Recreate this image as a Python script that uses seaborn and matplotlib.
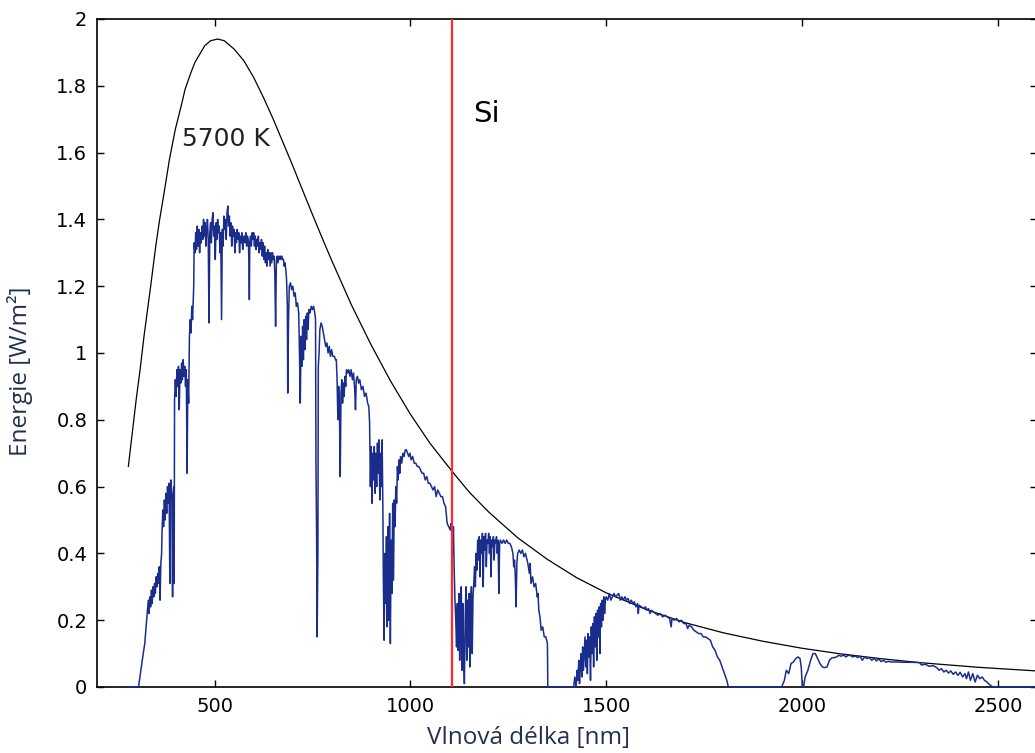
import numpy as np
import pandas as pd
import seaborn as sns
import matplotlib
matplotlib.use("Agg")
import matplotlib.pyplot as plt
from matplotlib.ticker import FuncFormatter

# Black body curve (5700 K)
blackbody_nm = [280, 290, 300, 310, 320, 337, 350, 360, 370, 385, 400, 415, 425, 440,
                450, 460, 475, 490, 508, 525, 550, 575, 600, 625, 650, 675, 700, 725,
                750, 775, 800, 850, 900, 950, 1000, 1050, 1107, 1150, 1200, 1275, 1350,
                1425, 1500, 1600, 1700, 1800, 1900, 2000, 2100, 2200, 2300, 2450, 2600]
blackbody_val = [0.66, 0.76, 0.86, 0.95, 1.05, 1.20, 1.32, 1.40, 1.47, 1.58, 1.67, 1.74,
                 1.79, 1.84, 1.87, 1.89, 1.92, 1.935, 1.94, 1.935, 1.91, 1.875, 1.825,
                 1.765, 1.70, 1.63, 1.56, 1.487, 1.415, 1.344, 1.275, 1.143, 1.024, 0.915,
                 0.817, 0.73, 0.645, 0.584, 0.524, 0.446, 0.382, 0.327, 0.282, 0.233,
                 0.193, 0.162, 0.137, 0.116, 0.099, 0.085, 0.073, 0.059, 0.048]

# Measured solar spectrum (blue curve)
spectrum_nm = [
    280, 306, 312, 318, 322, 326, 329, 331, 333, 335, 337, 339, 341, 343, 345, 347, 349,
    351, 353, 355, 357, 359, 361, 363, 365, 366, 368, 370, 372, 374, 376, 378, 380, 382,
    384, 386, 387, 389, 391, 393, 394, 396, 397, 398, 400, 402, 404, 406, 408, 410, 412,
    414, 416, 418, 420, 422, 424, 426, 428, 430, 432, 434, 436, 438, 440, 442, 444, 446,
    447, 448, 450, 452, 454, 456, 458, 460, 462, 464, 466, 468, 470, 472, 474, 476, 478,
    480, 482, 484, 486, 488, 490, 492, 494, 496, 498, 500, 502, 504, 506, 508, 510, 512,
    514, 516, 518, 520, 522, 524, 526, 528, 530, 532, 534, 536, 538, 540, 542, 544, 546,
    548, 550, 552, 554, 556, 558, 560, 562, 564, 566, 568, 570, 572, 574, 576, 578, 580,
    582, 584, 586, 588, 589, 590, 592, 594, 596, 598, 600, 602, 604, 606, 608, 610, 612,
    614, 616, 618, 620, 622, 624, 626, 628, 630, 632, 634, 636, 638, 640, 642, 644, 646,
    648, 650, 652, 654, 656, 658, 660, 662, 664, 666, 668, 670, 672, 674, 676, 678, 680,
    682, 684, 686, 687, 689, 691, 694, 697, 700, 703, 706, 709, 712, 715, 717, 719, 721,
    723, 725, 727, 729, 731, 733, 735, 737, 739, 741, 744, 747, 750, 753, 756, 758, 759,
    761, 762, 764, 765, 767, 769, 772, 775, 778, 781, 784, 787, 790, 793, 796, 799, 802,
    806, 809, 811, 813, 815, 817, 819, 821, 823, 825, 827, 829, 831, 833, 835, 837, 840,
    843, 846, 849, 852, 855, 858, 860, 862, 865, 868, 871, 875, 879, 883, 887, 891, 894,
    896, 898, 900, 902, 904, 906, 908, 910, 912, 914, 916, 918, 920, 922, 924, 926, 928,
    930, 931, 933, 935, 937, 939, 941, 943, 945, 947, 949, 951, 953, 955, 957, 959, 961,
    963, 965, 967, 969, 971, 973, 975, 978, 981, 984, 987, 990, 993, 996, 999, 1002, 1006,
    1010, 1014, 1018, 1022, 1026, 1030, 1034, 1038, 1042, 1046, 1050, 1054, 1058, 1062,
    1066, 1070, 1074, 1078, 1082, 1086, 1090, 1094, 1098, 1102, 1104, 1106, 1108, 1110,
    1112, 1114, 1116, 1118, 1120, 1122, 1124, 1126, 1128, 1130, 1132, 1134, 1136, 1138,
    1140, 1142, 1144, 1146, 1148, 1150, 1152, 1154, 1156, 1158, 1160, 1162, 1164, 1166,
    1168, 1170, 1172, 1174, 1176, 1178, 1180, 1182, 1184, 1186, 1188, 1190, 1192, 1194,
    1196, 1198, 1200, 1202, 1204, 1206, 1208, 1210, 1212, 1214, 1216, 1218, 1220, 1222,
    1224, 1226, 1228, 1230, 1234, 1238, 1242, 1246, 1250, 1254, 1258, 1262, 1264, 1266,
    1268, 1270, 1272, 1274, 1278, 1282, 1286, 1290, 1294, 1298, 1300, 1304, 1306, 1308,
    1312, 1316, 1320, 1324, 1326, 1328, 1331, 1334, 1338, 1342, 1346, 1350, 1351, 1417,
    1420, 1423, 1426, 1428, 1430, 1432, 1434, 1436, 1438, 1440, 1442, 1444, 1446, 1448,
    1450, 1452, 1454, 1456, 1458, 1460, 1462, 1464, 1466, 1468, 1470, 1472, 1474, 1476,
    1478, 1480, 1482, 1484, 1486, 1488, 1490, 1492, 1494, 1496, 1498, 1500, 1504, 1508,
    1512, 1516, 1520, 1524, 1528, 1532, 1536, 1540, 1544, 1548, 1552, 1556, 1560, 1564,
    1568, 1572, 1576, 1580, 1582, 1584, 1590, 1596, 1600, 1604, 1608, 1612, 1616, 1620,
    1626, 1632, 1638, 1644, 1650, 1656, 1662, 1666, 1668, 1674, 1680, 1686, 1692, 1698,
    1704, 1708, 1712, 1718, 1724, 1730, 1736, 1742, 1748, 1754, 1760, 1766, 1772, 1778,
    1784, 1790, 1796, 1802, 1808, 1812, 1948, 1955, 1960, 1966, 1972, 1978, 1984, 1990,
    1995, 1998, 2001, 2004, 2008, 2015, 2022, 2028, 2034, 2040, 2046, 2052, 2058, 2064,
    2070, 2076, 2082, 2088, 2094, 2100, 2106, 2112, 2118, 2124, 2130, 2136, 2142, 2148,
    2154, 2160, 2166, 2172, 2178, 2184, 2190, 2196, 2202, 2208, 2214, 2220, 2226, 2240,
    2260, 2280, 2300, 2305, 2315, 2325, 2335, 2344, 2350, 2356, 2362, 2368, 2374, 2380,
    2386, 2392, 2398, 2404, 2410, 2416, 2420, 2425, 2430, 2436, 2442, 2448, 2454, 2460,
    2466, 2472, 2478, 2487, 2600]
spectrum_val = [
    0.0, 0.0, 0.05, 0.10, 0.13, 0.19, 0.23, 0.26, 0.22, 0.27, 0.24, 0.29, 0.25, 0.30, 0.27,
    0.31, 0.28, 0.33, 0.30, 0.34, 0.31, 0.36, 0.26, 0.37, 0.40, 0.46, 0.53, 0.48, 0.56, 0.50,
    0.58, 0.52, 0.60, 0.55, 0.61, 0.31, 0.58, 0.62, 0.56, 0.27, 0.57, 0.60, 0.31, 0.86, 0.92,
    0.87, 0.95, 0.90, 0.96, 0.83, 0.95, 0.91, 0.97, 0.92, 0.98, 0.93, 0.96, 0.90, 0.95, 0.64,
    0.92, 0.85, 1.05, 1.10, 1.06, 1.14, 1.10, 1.17, 1.20, 1.33, 1.30, 1.36, 1.31, 1.38, 1.32,
    1.37, 1.30, 1.36, 1.33, 1.38, 1.34, 1.40, 1.35, 1.39, 1.32, 1.37, 1.40, 1.34, 1.09, 1.36,
    1.39, 1.33, 1.40, 1.42, 1.35, 1.38, 1.28, 1.39, 1.34, 1.40, 1.36, 1.38, 1.30, 1.36, 1.10,
    1.37, 1.32, 1.41, 1.37, 1.40, 1.34, 1.42, 1.44, 1.38, 1.41, 1.35, 1.39, 1.32, 1.38, 1.35,
    1.37, 1.30, 1.36, 1.33, 1.37, 1.34, 1.36, 1.30, 1.35, 1.33, 1.36, 1.31, 1.34, 1.35, 1.33,
    1.36, 1.32, 1.35, 1.34, 1.28, 1.16, 1.33, 1.35, 1.32, 1.36, 1.34, 1.36, 1.32, 1.35, 1.31,
    1.34, 1.32, 1.35, 1.30, 1.33, 1.31, 1.34, 1.29, 1.33, 1.28, 1.32, 1.27, 1.30, 1.26, 1.31,
    1.28, 1.30, 1.26, 1.30, 1.27, 1.30, 1.28, 1.29, 1.24, 1.08, 1.28, 1.29, 1.27, 1.29, 1.28,
    1.29, 1.28, 1.29, 1.28, 1.28, 1.26, 1.27, 1.25, 1.22, 1.14, 0.88, 1.10, 1.20, 1.21, 1.19,
    1.20, 1.17, 1.18, 1.14, 1.15, 1.12, 1.00, 0.85, 1.05, 0.96, 1.08, 0.98, 1.10, 1.01, 1.11,
    1.04, 1.12, 1.07, 1.13, 1.12, 1.14, 1.13, 1.14, 1.12, 1.10, 0.68, 0.40, 0.15, 0.40, 0.96,
    1.00, 1.07, 1.09, 1.08, 1.06, 1.04, 1.02, 1.03, 1.00, 1.02, 0.99, 1.01, 0.99, 0.99, 0.98,
    0.98, 0.92, 0.80, 0.90, 0.84, 0.63, 0.88, 0.92, 0.85, 0.91, 0.87, 0.93, 0.90, 0.95, 0.94,
    0.95, 0.93, 0.95, 0.92, 0.94, 0.89, 0.83, 0.92, 0.93, 0.91, 0.92, 0.89, 0.90, 0.87, 0.88,
    0.85, 0.84, 0.79, 0.60, 0.72, 0.55, 0.70, 0.62, 0.72, 0.58, 0.70, 0.60, 0.73, 0.64, 0.74,
    0.56, 0.70, 0.60, 0.74, 0.52, 0.34, 0.14, 0.40, 0.25, 0.45, 0.18, 0.48, 0.20, 0.52, 0.13,
    0.44, 0.28, 0.55, 0.32, 0.56, 0.48, 0.60, 0.55, 0.66, 0.62, 0.68, 0.64, 0.69, 0.67, 0.70,
    0.69, 0.71, 0.71, 0.70, 0.69, 0.70, 0.68, 0.69, 0.67, 0.67, 0.66, 0.66, 0.65, 0.64, 0.64,
    0.62, 0.63, 0.61, 0.61, 0.60, 0.59, 0.60, 0.57, 0.59, 0.58, 0.57, 0.57, 0.55, 0.54, 0.49,
    0.48, 0.47, 0.49, 0.46, 0.40, 0.48, 0.35, 0.26, 0.20, 0.12, 0.25, 0.11, 0.28, 0.08, 0.22,
    0.30, 0.05, 0.25, 0.10, 0.01, 0.20, 0.30, 0.08, 0.26, 0.12, 0.28, 0.06, 0.25, 0.30, 0.10,
    0.27, 0.31, 0.36, 0.30, 0.40, 0.35, 0.44, 0.38, 0.45, 0.33, 0.44, 0.40, 0.46, 0.30, 0.45,
    0.41, 0.46, 0.36, 0.44, 0.43, 0.46, 0.40, 0.45, 0.33, 0.44, 0.42, 0.45, 0.38, 0.44, 0.43,
    0.45, 0.40, 0.44, 0.28, 0.43, 0.44, 0.43, 0.44, 0.43, 0.44, 0.43, 0.43, 0.42, 0.40, 0.36,
    0.38, 0.33, 0.24, 0.37, 0.40, 0.41, 0.40, 0.41, 0.39, 0.40, 0.38, 0.37, 0.34, 0.37, 0.31,
    0.33, 0.30, 0.31, 0.27, 0.28, 0.23, 0.21, 0.17, 0.18, 0.15, 0.15, 0.13, 0.0, 0.0, 0.03,
    0.0, 0.05, 0.02, 0.08, 0.01, 0.06, 0.10, 0.03, 0.12, 0.05, 0.10, 0.15, 0.06, 0.14, 0.04,
    0.16, 0.09, 0.15, 0.02, 0.18, 0.10, 0.19, 0.06, 0.21, 0.12, 0.22, 0.08, 0.23, 0.15, 0.24,
    0.10, 0.25, 0.18, 0.26, 0.20, 0.27, 0.22, 0.26, 0.27, 0.26, 0.28, 0.26, 0.27, 0.28, 0.27,
    0.275, 0.28, 0.26, 0.27, 0.26, 0.27, 0.26, 0.265, 0.25, 0.26, 0.25, 0.255, 0.24, 0.25,
    0.22, 0.245, 0.24, 0.235, 0.24, 0.23, 0.235, 0.22, 0.23, 0.225, 0.22, 0.215, 0.22, 0.21,
    0.215, 0.21, 0.205, 0.18, 0.205, 0.20, 0.205, 0.195, 0.20, 0.19, 0.19, 0.175, 0.185,
    0.18, 0.17, 0.165, 0.16, 0.16, 0.15, 0.15, 0.145, 0.14, 0.12, 0.11, 0.09, 0.08, 0.06,
    0.04, 0.02, 0.0, 0.0, 0.02, 0.05, 0.04, 0.07, 0.075, 0.085, 0.09, 0.085, 0.06, 0.0, 0.0,
    0.03, 0.05, 0.08, 0.10, 0.10, 0.085, 0.07, 0.06, 0.058, 0.06, 0.08, 0.087, 0.088, 0.09,
    0.095, 0.092, 0.096, 0.09, 0.095, 0.094, 0.09, 0.093, 0.088, 0.092, 0.08, 0.09, 0.085,
    0.088, 0.08, 0.086, 0.078, 0.084, 0.076, 0.08, 0.074, 0.077, 0.075, 0.075, 0.074, 0.074,
    0.073, 0.066, 0.068, 0.062, 0.064, 0.058, 0.05, 0.055, 0.045, 0.05, 0.042, 0.048, 0.038,
    0.045, 0.035, 0.044, 0.03, 0.04, 0.025, 0.045, 0.02, 0.04, 0.015, 0.035, 0.025, 0.03,
    0.02, 0.015, 0.008, 0.0, 0.0]

si_edge_nm = 1107
x_ticks = [500, 1000, 1500, 2000, 2500]
y_ticks = [0, 0.2, 0.4, 0.6, 0.8, 1, 1.2, 1.4, 1.6, 1.8, 2]

sns.set_style("ticks")
plt.rcParams['font.family'] = ['DejaVu Sans']

fig = plt.figure(figsize=(10.35, 7.53), dpi=100)
# axes run a little past the right edge of the picture, like the original crop
ax = fig.add_axes([97 / 1035, 66 / 753, 940 / 1035, 668 / 753])

df_bb = pd.DataFrame({'nm': blackbody_nm, 'val': blackbody_val})
df_sp = pd.DataFrame({'nm': spectrum_nm, 'val': spectrum_val})

sns.lineplot(data=df_bb, x='nm', y='val', ax=ax, color='black', linewidth=0.9,
             estimator=None, sort=False, zorder=2)
sns.lineplot(data=df_sp, x='nm', y='val', ax=ax, color='#1a2d8c', linewidth=1.1,
             estimator=None, sort=False, zorder=3, clip_on=False)
ax.axvline(si_edge_nm, color='#ff2a2a', linewidth=1.6, zorder=4)

ax.set_xlim(200, 2600)
ax.set_ylim(0, 2)
ax.set_xticks(x_ticks)
ax.set_yticks(y_ticks)
ax.yaxis.set_major_formatter(FuncFormatter(lambda v, p: f"{v:g}"))
ax.tick_params(direction='in', top=True, right=True, length=5, width=1,
               labelsize=14, colors='black', pad=7)
for s in ax.spines.values():
    s.set_linewidth(1.2)
    s.set_color('black')

label_color = '#24304f'
ax.set_xlabel('Vlnová délka [nm]', fontsize=17.5, color=label_color,
              family=['Open Sans', 'DejaVu Sans'])
ax.set_ylabel('Energie [W/m²]', fontsize=17.5, color=label_color,
              family=['Open Sans', 'DejaVu Sans'])
ax.xaxis.set_label_coords(0.459, -0.058)
ax.yaxis.set_label_coords(-0.068, 0.472)

ax.text(416, 1.64, '5700 K', fontsize=18, color='#222222', va='center', ha='left')
ax.text(1160, 1.715, 'Si', fontsize=21, color='black', va='center', ha='left')

fig.savefig('out.png', dpi=100)
